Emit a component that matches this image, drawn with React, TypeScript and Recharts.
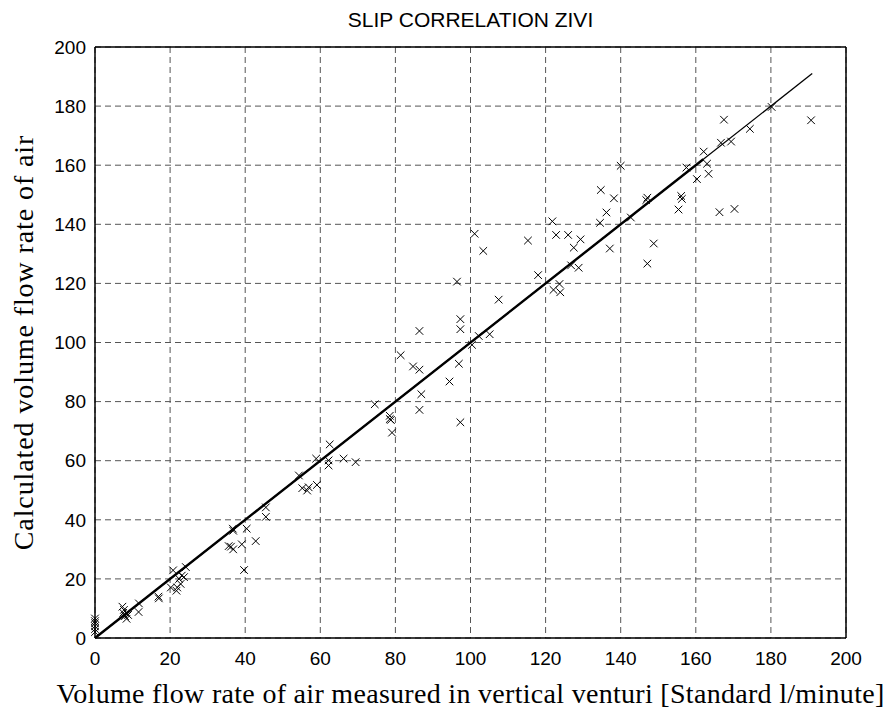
import React from 'react';
import { ScatterChart, Scatter, XAxis, YAxis, CartesianGrid, ReferenceLine } from 'recharts';

// measured in vertical venturi [Standard l/minute]
const measured = [
  0, 0, 0, 0, 0, 0,
  7.3, 7.7, 8, 8.4, 8.8, 7.5, 11.7, 11.6, 16.9, 17,
  20.8, 20.2, 21.7, 21.9, 22.8, 23.1, 23.7, 24.2, 22.4,
  36.7, 36.8, 40.4, 45.5, 45.5, 42.8, 35.6, 36.2, 36.8, 39.1, 39.7,
  54.3, 55.2, 56.5, 56.9, 59.1, 58.9, 62.5, 62.2, 62.2, 66.2, 69.4,
  74.5, 78.5, 78.5, 78.8, 79.1, 81.4, 84.7, 86.4, 86.9, 86.4, 86.4, 94.4,
  97.3, 96.9, 97.3, 97.3, 96.4, 101.1, 103.4, 100.4, 102.2, 105.1, 107.5,
  115.3, 118, 121.8, 122.8, 126, 127.5, 129.3, 122.1, 123.7, 123.9, 126.8, 128.8,
  134.7, 138.2, 136.2, 134.5, 137.1, 142.7, 147.1, 146.8, 147.1, 140, 148.8,
  155.4, 156.1, 156.3, 157.5, 160.3, 162.1, 163, 163.4, 166.3, 170.3,
  166.7, 169.4, 167.5, 174.4, 180.2, 190.7,
];

// calculated volume flow rate of air
const calculated = [
  2, 3, 4, 5, 5.7, 6.6,
  10.6, 9.5, 7.4, 6.5, 7.8, 8.5, 11.7, 8.8, 14, 13.4,
  22.9, 17.1, 16, 17.1, 18.3, 21.1, 20.6, 24, 20,
  37, 36.3, 37, 44.2, 41, 32.8, 31.1, 30.9, 30, 31.7, 23,
  55, 50.7, 49.9, 51, 51.8, 60.7, 65.5, 60.1, 58.4, 60.7, 59.5,
  79.1, 75.2, 74.1, 73.8, 69.5, 95.7, 91.9, 90.8, 82.5, 77.2, 103.9, 86.8,
  73, 92.8, 104.5, 107.9, 120.6, 136.8, 131, 99.2, 102.2, 102.8, 114.5,
  134.5, 122.8, 141, 136.4, 136.4, 132.1, 134.9, 117.8, 119.8, 117, 126.1, 125.3,
  151.6, 148.8, 144, 140.5, 131.8, 142.3, 149, 148.2, 126.7, 159.8, 133.5,
  145, 149.6, 148.6, 159.2, 155.3, 164.6, 160.5, 157.1, 144.1, 145.2,
  167.6, 168, 175.4, 172.3, 179.7, 175.2,
];

const axisTicks = [0, 20, 40, 60, 80, 100, 120, 140, 160, 180, 200];

// y = x reference, full length and the heavier lower part
const fitStart = 0;
const fitEnd = 191;
const thickEnd = 162;

const points = measured.map((x, i) => ({ x, y: calculated[i] }));

const XMark = (props: any) => {
  const { cx, cy } = props;
  const s = 3.8;
  return (
    <path
      d={`M${cx - s},${cy - s}L${cx + s},${cy + s}M${cx - s},${cy + s}L${cx + s},${cy - s}`}
      stroke="#000"
      strokeWidth={1}
      fill="none"
    />
  );
};

const sans = 'Liberation Sans, Arial, sans-serif';
const serif = 'Liberation Serif, Times New Roman, serif';
const tickStyle = { fontFamily: sans, fontSize: 19, fill: '#000' };

export default function App() {
  return (
    <div style={{ position: 'absolute', left: 0, top: 0, width: 891, height: 711, background: '#fff' }}>
      <div
        style={{
          position: 'absolute',
          left: 95,
          width: 751,
          top: 8,
          textAlign: 'center',
          fontFamily: sans,
          fontSize: 21,
          lineHeight: '24px',
          color: '#000',
        }}
      >
        SLIP CORRELATION ZIVI
      </div>
      <ScatterChart width={891} height={711} margin={{ top: 47, right: 45, bottom: 0, left: 0 }}>
        <CartesianGrid stroke="#555" strokeDasharray="6 4" />
        <XAxis
          type="number"
          dataKey="x"
          domain={[0, 200]}
          ticks={axisTicks}
          height={73}
          tickLine={false}
          tickSize={0}
          tickMargin={14}
          axisLine={{ stroke: '#000', strokeWidth: 1.5 }}
          tick={tickStyle}
          label={{
            value: 'Volume flow rate of air measured in vertical venturi [Standard l/minute]',
            position: 'insideBottom',
            offset: 8,
            style: { fontFamily: serif, fontSize: 28, letterSpacing: 0.3, fill: '#000' },
          }}
        />
        <XAxis
          xAxisId="top"
          orientation="top"
          type="number"
          dataKey="x"
          domain={[0, 200]}
          ticks={axisTicks}
          mirror
          tickSize={5}
          tickFormatter={() => ''}
          axisLine={{ stroke: '#000', strokeWidth: 1.5 }}
          tickLine={{ stroke: '#000' }}
        />
        <YAxis
          type="number"
          dataKey="y"
          domain={[0, 200]}
          ticks={axisTicks}
          width={95}
          tickLine={false}
          tickSize={0}
          tickMargin={9}
          axisLine={{ stroke: '#000', strokeWidth: 1.5 }}
          tick={tickStyle}
          label={{
            value: 'Calculated volume flow rate of air',
            angle: -90,
            position: 'insideLeft',
            offset: 23,
            style: { fontFamily: serif, fontSize: 28, letterSpacing: 0.9, fill: '#000', textAnchor: 'middle' },
          }}
        />
        <YAxis
          yAxisId="right"
          orientation="right"
          type="number"
          dataKey="y"
          domain={[0, 200]}
          ticks={axisTicks}
          mirror
          tickSize={5}
          tickFormatter={() => ''}
          axisLine={{ stroke: '#000', strokeWidth: 1.5 }}
          tickLine={{ stroke: '#000' }}
        />
        <ReferenceLine
          segment={[{ x: fitStart, y: fitStart }, { x: fitEnd, y: fitEnd }]}
          stroke="#000"
          strokeWidth={1.3}
        />
        <ReferenceLine
          segment={[{ x: fitStart, y: fitStart }, { x: thickEnd, y: thickEnd }]}
          stroke="#000"
          strokeWidth={2.4}
        />
        <Scatter data={points} shape={XMark} isAnimationActive={false} />
      </ScatterChart>
    </div>
  );
}
